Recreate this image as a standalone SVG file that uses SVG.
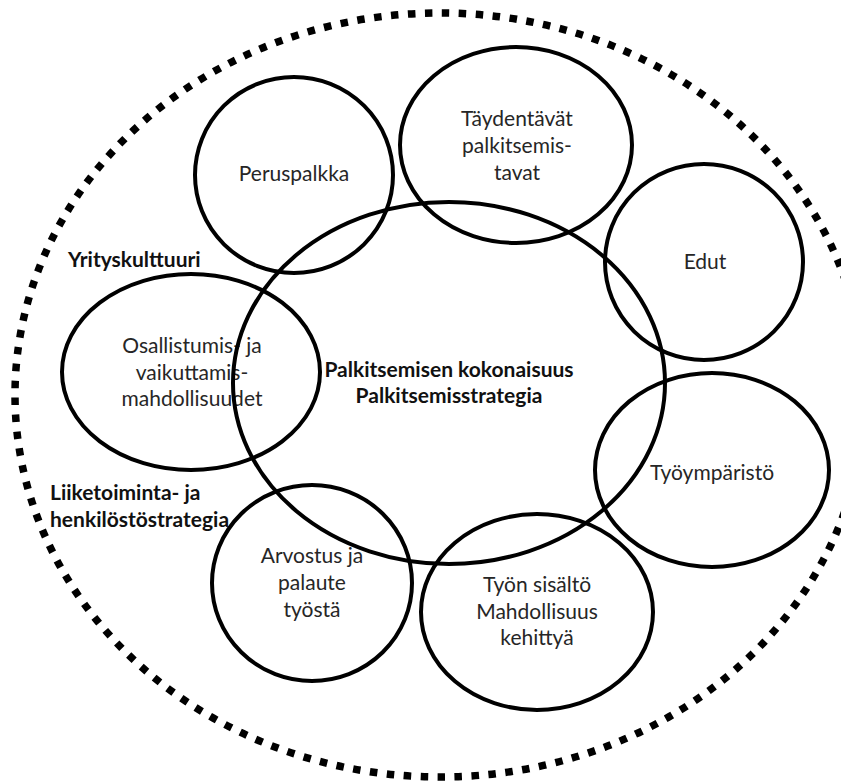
<svg xmlns="http://www.w3.org/2000/svg" width="841" height="783" viewBox="0 0 841 783">
<style>
.c{fill:none;stroke:#000;stroke-width:4}
.t{font-family:Lato,"Liberation Sans",sans-serif;font-size:21px;fill:#262626;text-anchor:middle}
.b{font-family:Lato,"Liberation Sans",sans-serif;font-size:21px;font-weight:bold;fill:#111}
.m{text-anchor:middle}
.d{fill:none;stroke:#000;stroke-width:7.5;stroke-dasharray:7.5 9.5}
</style>
<rect width="841" height="783" fill="#fff"/>
<g id="outer">
<ellipse class="d" cx="440" cy="395" rx="425" ry="382"/>
<text class="b" x="68" y="267">Yrityskulttuuri</text>
<text class="b" x="50" y="500">Liiketoiminta- ja</text>
<text class="b" x="50" y="527">henkilöstöstrategia</text>
</g>
<g id="osallistumis">
<text class="t" x="192" y="353">Osallistumis- ja</text>
<text class="t" x="192" y="380">vaikuttamis-</text>
<text class="t" x="192" y="406">mahdollisuudet</text>
<ellipse class="c" cx="191" cy="372" rx="129" ry="98"/>
</g>
<g id="peruspalkka">
<text class="t" x="294" y="181">Peruspalkka</text>
<ellipse class="c" cx="294" cy="175" rx="99" ry="98"/>
</g>
<g id="taydentavat">
<text class="t" x="517" y="126">Täydentävät</text>
<text class="t" x="517" y="153">palkitsemis-</text>
<text class="t" x="517" y="180">tavat</text>
<ellipse class="c" cx="516" cy="145" rx="116" ry="98"/>
</g>
<g id="edut">
<text class="t" x="705" y="269">Edut</text>
<ellipse class="c" cx="704" cy="262" rx="99" ry="98"/>
</g>
<g id="tyoymparisto">
<text class="t" x="712" y="480">Työympäristö</text>
<ellipse class="c" cx="712" cy="470" rx="117" ry="97"/>
</g>
<g id="tyonsisalto">
<text class="t" x="537" y="592">Työn sisältö</text>
<text class="t" x="537" y="619">Mahdollisuus</text>
<text class="t" x="537" y="645">kehittyä</text>
<ellipse class="c" cx="537" cy="612" rx="116" ry="98"/>
</g>
<g id="arvostus">
<text class="t" x="312" y="563">Arvostus ja</text>
<text class="t" x="312" y="590">palaute</text>
<text class="t" x="312" y="617">työstä</text>
<ellipse class="c" cx="312" cy="583" rx="100" ry="98"/>
</g>
<g id="keskus">
<ellipse class="c" cx="449" cy="383" rx="216" ry="181"/>
<text class="b m" x="449" y="377">Palkitsemisen kokonaisuus</text>
<text class="b m" x="449" y="403">Palkitsemisstrategia</text>
</g>
</svg>
